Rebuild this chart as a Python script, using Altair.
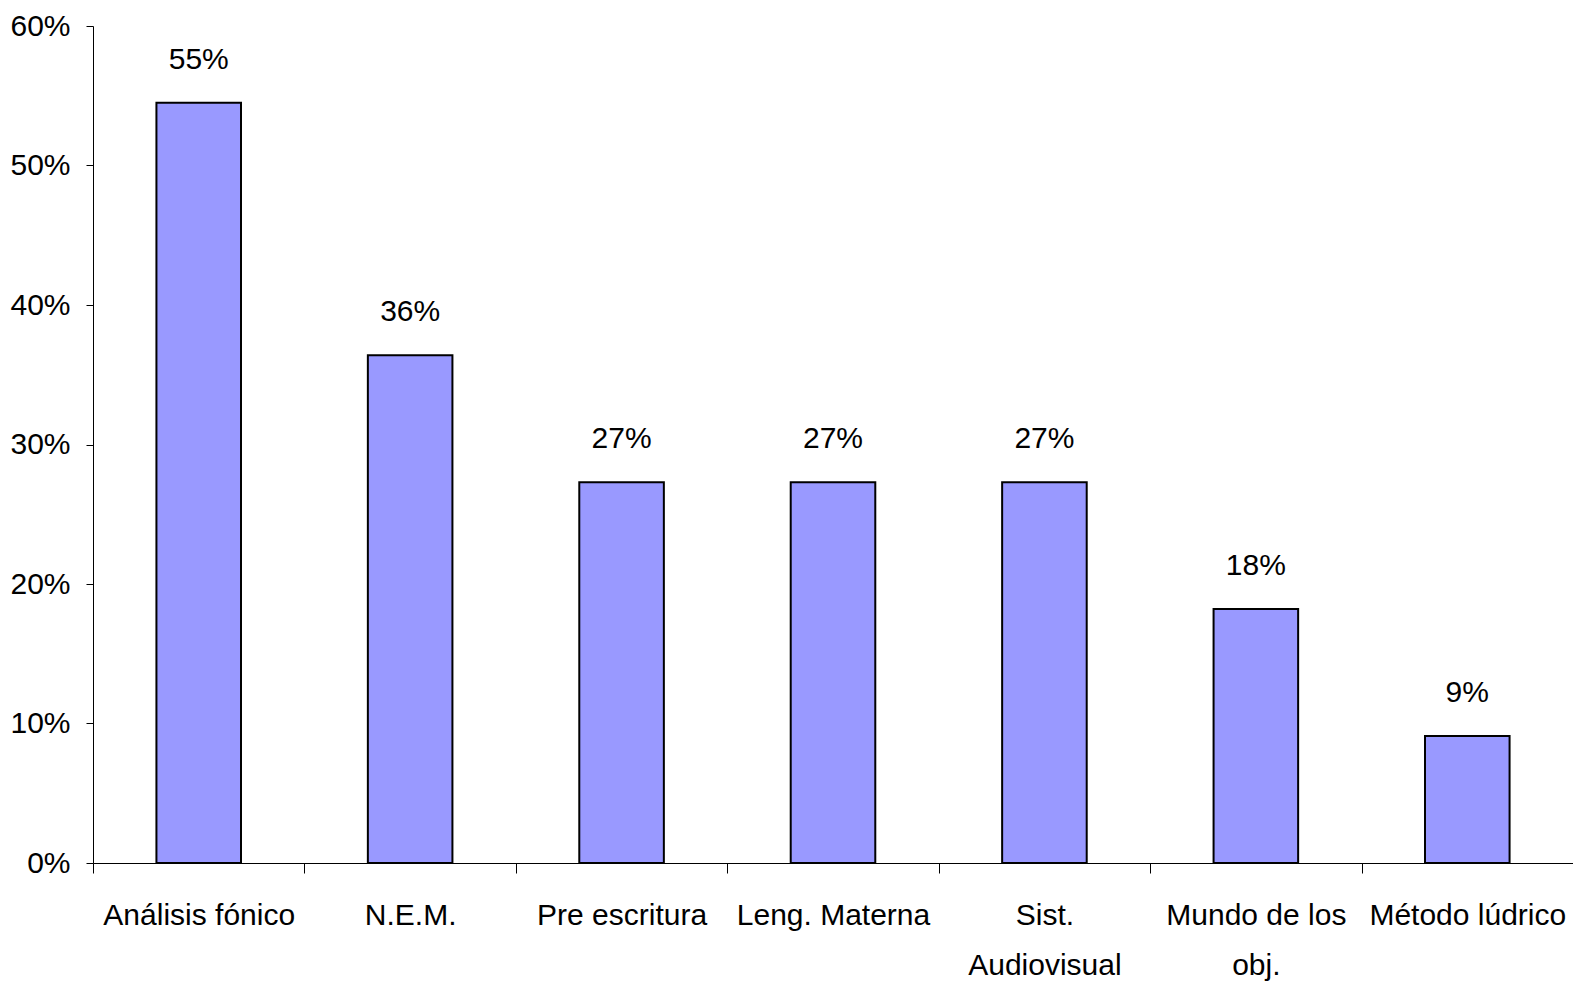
import altair as alt
import pandas as pd

categories = ["Análisis fónico", "N.E.M.", "Pre escritura", "Leng. Materna",
              "Sist. Audiovisual", "Mundo de los obj.", "Método lúdrico"]
values = [0.545, 0.364, 0.273, 0.273, 0.273, 0.182, 0.091]
value_labels = ["55%", "36%", "27%", "27%", "27%", "18%", "9%"]
y_ticks = [0.0, 0.1, 0.2, 0.3, 0.4, 0.5, 0.6]

df = pd.DataFrame({"cat": categories, "val": values, "lab": value_labels})

FONT = "Liberation Sans, Arial, sans-serif"
FS = 30

label_expr = ("datum.label == 'Sist. Audiovisual' ? ['Sist.', 'Audiovisual'] : "
              "datum.label == 'Mundo de los obj.' ? ['Mundo de los', 'obj.'] : datum.label")

x_enc = alt.X(
    "cat:N", sort=categories,
    scale=alt.Scale(paddingInner=0, paddingOuter=0),
    axis=alt.Axis(title=None, labelAngle=0, tickBand="extent", tickSize=10,
                  labelPadding=27, labelExpr=label_expr, labelFontSize=FS,
                  labelFont=FONT, labelColor="black", domainColor="black",
                  tickColor="black", labelLineHeight=50, labelLimit=0,
                  labelBaseline="top", grid=False),
)
y_enc = alt.Y(
    "val:Q", scale=alt.Scale(domain=[0, 0.6]),
    axis=alt.Axis(title=None, format="%", values=y_ticks, grid=False, tickSize=7,
                  labelPadding=16, labelFontSize=FS, labelFont=FONT,
                  labelColor="black", domainColor="black", tickColor="black"),
)

bars = alt.Chart(df).mark_bar(fill="#9999FF", stroke="black", strokeWidth=2,
                              width=alt.RelativeBandSize(0.4)).encode(x=x_enc, y=y_enc)
text = alt.Chart(df).mark_text(dy=-34, baseline="alphabetic", fontSize=FS, font=FONT,
                               color="black").encode(
    x=alt.X("cat:N", sort=categories), y="val:Q", text="lab:N")

chart = (bars + text).properties(
    width=1480, height=837,
    autosize=alt.AutoSizeParams(type="none"),
    padding={"left": 85, "top": 18, "right": 0, "bottom": 122},
).configure_view(stroke=None)

chart.save("out.html", embed_options={"renderer": "svg", "actions": False})
